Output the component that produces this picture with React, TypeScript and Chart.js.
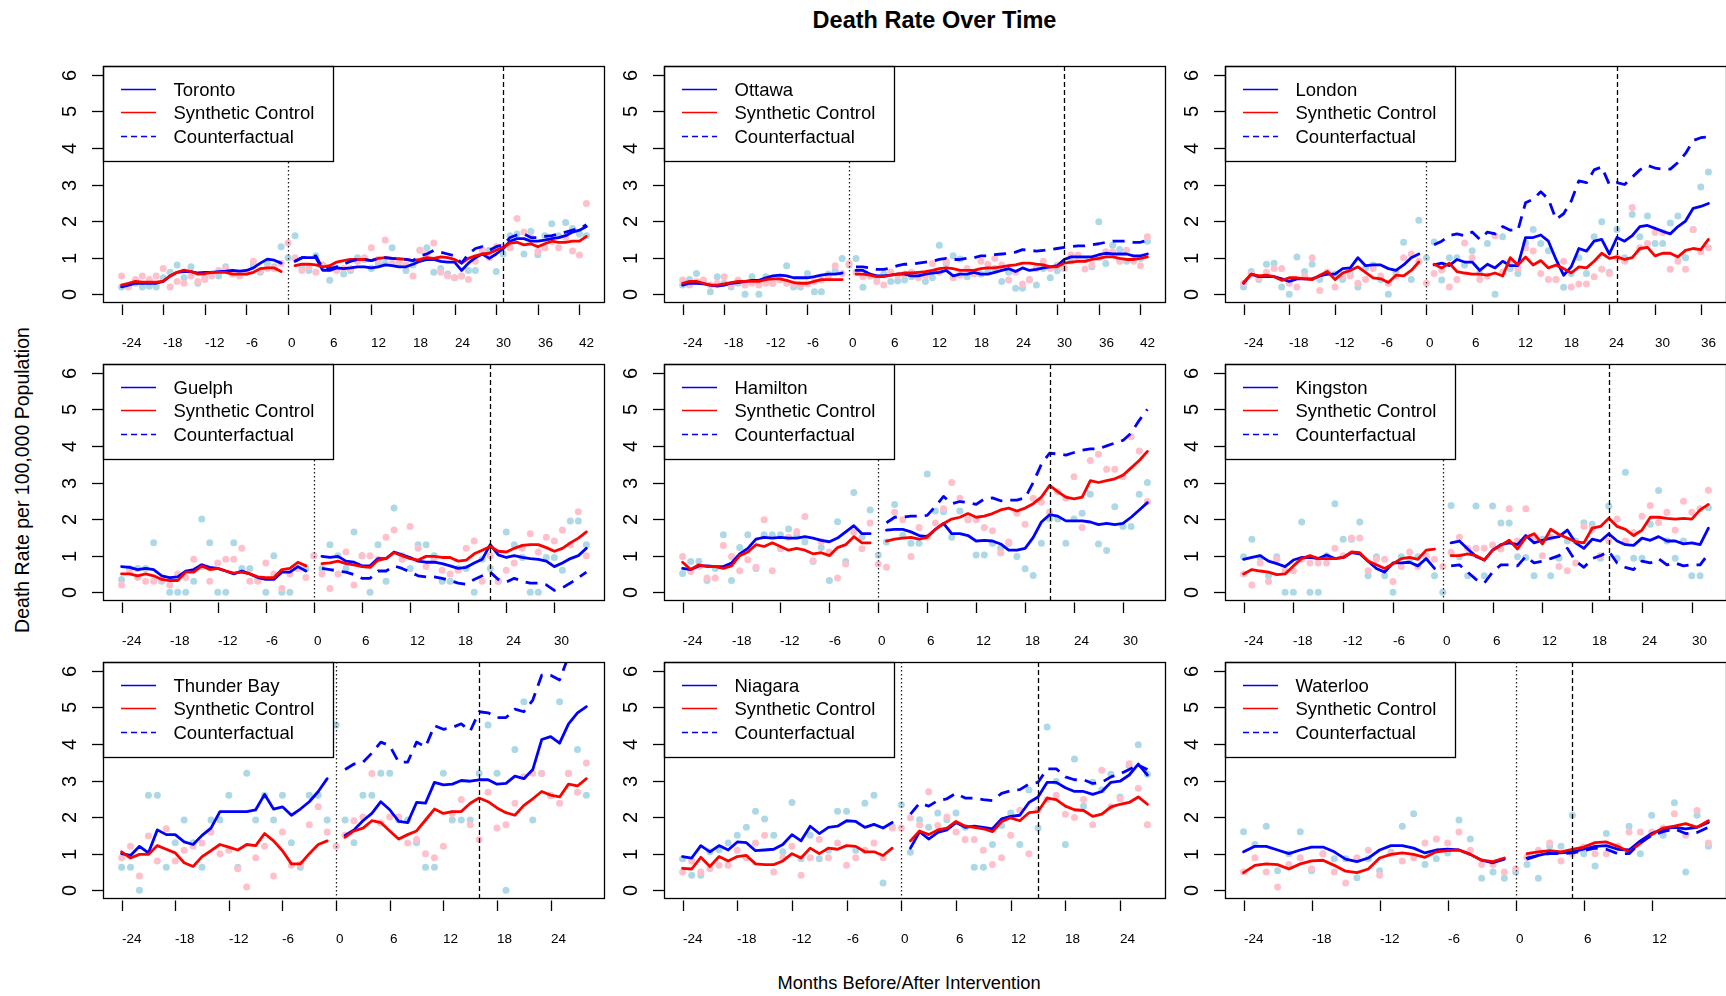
import React, { useEffect, useRef } from 'react';
import { Chart, registerables } from 'chart.js';

Chart.register(...registerables);

// ---------------- data ----------------
const cityNames = ['Toronto', 'Ottawa', 'London', 'Guelph', 'Hamilton', 'Kingston', 'Thunder Bay', 'Niagara', 'Waterloo'];
const lastMonths = [43, 43, 37, 34, 33, 32, 28, 27, 17];
const interventionMonths = [31, 31, 25, 22, 21, 20, 16, 15, 5];
const firstMonth = -24;
const yTicks = [0, 1, 2, 3, 4, 5, 6];
const xTickStep = 6;
const legendLabels = ['Synthetic Control', 'Counterfactual'];

// Each "Obs"/"Syn" line runs from month -24 to the last month (null at month 0).
// Each "Cf" line runs from month 1 to the last month. "Pts" run from -24 to the last month.
const torontoObs = [0.2,0.25,0.3,0.3,0.3,0.3,0.35,0.5,0.6,0.62, 0.62,0.58,0.6,0.6,0.62,0.63,0.65,0.63,0.65,0.72, 0.85,0.96,0.93,0.85, null, 0.9,1.0,1.0,1.0,0.65,0.65,0.72,0.7,0.72,0.75, 0.75,0.72,0.75,0.8,0.78,0.75,0.75,0.82,0.9,0.95, 0.95,0.9,0.88,0.88,0.65,0.85,1.0,1.1,0.98,1.1, 1.25,1.45,1.52,1.52,1.45,1.45,1.48,1.52,1.55,1.6, 1.7,1.75,1.85];
const torontoSyn = [0.25,0.3,0.35,0.33,0.33,0.33,0.36,0.5,0.6,0.66, 0.62,0.55,0.56,0.6,0.6,0.6,0.55,0.55,0.55,0.6, 0.7,0.72,0.72,0.62, null, 0.78,0.82,0.82,0.8,0.75,0.78,0.88,0.92,0.95,0.95, 0.95,0.92,0.98,1.0,0.98,0.97,0.95,0.92,0.95,1.0, 0.98,1.02,1.0,0.95,0.85,0.98,1.05,1.1,1.12,1.2, 1.28,1.4,1.42,1.35,1.38,1.3,1.38,1.45,1.42,1.42, 1.45,1.45,1.58];
const torontoCf = [0.9,1.0,1.0,1.05,0.7,0.7,0.75,0.82,0.9,0.95, 0.95,0.92,0.98,1.0,0.98,0.97,0.95,0.92,1.05,1.1, 1.2,1.15,1.1,1.05,0.85,1.1,1.25,1.3,1.2,1.3, 1.35,1.55,1.62,1.65,1.55,1.55,1.58,1.6,1.65,1.7, 1.75,1.8,1.9];
const torontoObsPts = [0.2,0.22,0.3,0.2,0.22,0.2,0.45,0.6,0.8,0.45, 0.75,0.3,0.45,0.55,0.5,0.75,0.6,0.55,0.6,0.8, 0.6,0.85,0.75,1.3, 1.0, 1.6,0.7,0.65,1.05,0.75,0.38,0.7,0.55,0.65,1.0, 0.95,0.7,0.85,0.85,1.27,0.85,0.65,0.8,1.2,1.27, 0.6,0.7,0.55,0.45,0.5,0.65,0.65,1.2,1.2,0.62, 1.1,1.6,1.65,1.1,1.72,1.08,1.6,1.93,1.6,1.96, 1.8,1.65,1.6];
const torontoSynPts = [0.5,0.2,0.4,0.5,0.4,0.5,0.7,0.2,0.35,0.3, 0.5,0.35,0.4,0.5,0.65,0.7,0.55,0.5,0.6,0.9, 0.65,0.7,0.7,0.85, 1.4, 1.0,0.65,0.75,0.6,0.8,0.7,0.65,0.7,0.7,0.9, 1.0,1.27,0.95,1.48,0.85,0.9,0.8,0.5,1.2,1.1, 1.4,0.6,0.5,0.45,0.5,0.4,0.9,1.2,1.0,1.3, 1.3,1.27,2.07,1.7,1.55,1.17,1.27,1.45,1.27,1.55, 1.18,1.07,2.48];

const ottawaObs = [0.25,0.3,0.3,0.28,0.25,0.22,0.25,0.3,0.32,0.35, 0.38,0.38,0.45,0.5,0.52,0.5,0.45,0.45,0.45,0.48, 0.52,0.55,0.55,0.58, null, 0.65,0.65,0.55,0.5,0.5,0.52,0.55,0.55,0.5,0.5, 0.55,0.58,0.6,0.65,0.5,0.55,0.55,0.6,0.55,0.55, 0.6,0.65,0.7,0.62,0.72,0.65,0.68,0.72,0.75,0.78, 0.95,1.02,1.02,1.02,1.02,1.08,1.12,1.1,1.1,1.1, 1.05,1.05,1.1];
const ottawaSyn = [0.3,0.35,0.35,0.3,0.25,0.25,0.28,0.32,0.35,0.35, 0.35,0.35,0.4,0.42,0.42,0.38,0.32,0.3,0.3,0.35, 0.4,0.4,0.4,0.4, null, 0.55,0.55,0.52,0.48,0.48,0.52,0.55,0.58,0.58,0.6, 0.62,0.65,0.7,0.72,0.7,0.65,0.65,0.65,0.7,0.72, 0.72,0.75,0.78,0.8,0.85,0.85,0.82,0.8,0.75,0.75, 0.85,0.88,0.9,0.9,0.95,0.98,1.02,1.02,0.98,0.95, 0.95,0.98,1.02];
const ottawaCf = [0.75,0.75,0.72,0.68,0.68,0.72,0.78,0.82,0.82,0.85, 0.88,0.9,0.95,0.98,0.95,0.95,0.98,1.0,1.05,1.05, 1.08,1.1,1.12,1.15,1.22,1.2,1.18,1.2,1.22,1.25, 1.28,1.3,1.32,1.32,1.35,1.38,1.42,1.45,1.45,1.45, 1.42,1.42,1.48];
const ottawaObsPts = [0.25,0.4,0.57,0.35,0.07,0.48,0.3,0.2,0.3,0.0, 0.48,0.0,0.48,0.3,0.45,0.78,0.2,0.2,0.57,0.07, 0.07,0.55,0.65,0.98, 0.8, 0.98,0.19,0.5,0.45,0.55,0.35,0.36,0.39,0.48,0.5, 0.35,0.45,1.34,0.84,1.05,0.96,0.48,0.6,0.55,0.62, 0.7,0.35,0.6,0.16,0.16,0.4,0.25,0.7,0.45,0.64, 0.72,0.9,1.0,0.95,0.75,1.98,0.84,1.34,1.22,0.9, 0.92,0.98,1.45];
const ottawaSynPts = [0.39,0.25,0.35,0.39,0.25,0.3,0.48,0.25,0.39,0.25, 0.3,0.25,0.3,0.3,0.39,0.3,0.28,0.25,0.28,0.35, 0.39,0.48,0.78,0.57, 0.84, 0.6,0.48,0.5,0.35,0.25,0.6,0.52,0.55,0.6,0.45, 0.5,0.84,0.6,0.9,0.45,0.52,0.7,0.55,0.9,0.82, 0.98,0.8,0.39,0.6,0.28,0.39,0.7,0.9,0.7,0.8, 0.7,1.07,1.07,0.69,0.8,1.0,1.16,1.16,0.9,1.2, 0.9,0.78,1.57];

const londonObs = [0.3,0.55,0.48,0.48,0.48,0.42,0.35,0.42,0.42,0.42, 0.5,0.55,0.55,0.7,0.72,1.0,0.78,0.8,0.8,0.7, 0.65,0.8,1.0,1.1, null, 0.8,0.85,0.78,0.95,0.88,0.88,0.65,0.82,0.72,0.9, 0.78,0.78,1.55,1.55,1.62,1.45,0.95,0.52,0.75,1.25, 1.18,1.45,1.5,1.1,1.55,1.45,1.6,1.85,1.88,1.8, 1.72,1.65,1.85,2.0,2.35,2.4,2.48];
const londonSyn = [0.32,0.55,0.5,0.52,0.48,0.38,0.45,0.45,0.42,0.4, 0.52,0.62,0.4,0.58,0.65,0.75,0.6,0.45,0.42,0.32, 0.52,0.5,0.65,0.88, null, 0.82,0.72,0.85,0.62,0.58,0.55,0.55,0.52,0.58,0.5, 1.0,0.8,1.02,0.8,0.92,0.72,0.8,0.7,0.58,0.75, 0.72,0.9,1.12,0.98,1.02,0.95,1.0,1.25,1.28,1.05, 1.12,1.12,1.02,1.2,1.25,1.22,1.5];
const londonCf = [1.35,1.45,1.6,1.65,1.6,1.7,1.5,1.7,1.65,1.85, 1.75,1.75,2.5,2.6,2.8,2.6,2.05,2.2,2.55,3.1, 3.05,3.4,3.48,3.0,3.05,3.0,3.2,3.4,3.52,3.45, 3.42,3.42,3.6,3.85,4.2,4.28,4.3];
const londonObsPts = [0.2,0.62,0.4,0.82,0.85,0.2,0.0,1.02,0.62,0.82, 0.4,0.6,0.55,0.4,0.55,0.2,0.7,0.8,0.4,0.0, 0.6,1.42,0.4,2.02, 1.0, 1.43,0.39,1.0,1.0,0.8,1.19,0.57,1.39,0.0,1.57, 0.7,0.57,1.4,1.77,1.39,1.19,0.4,0.19,0.57,1.0, 0.57,1.57,1.98,0.6,1.77,1.0,2.18,1.57,2.14,1.39, 1.39,1.95,2.14,1.0,1.77,2.93,3.34];
const londonSynPts = [0.3,0.55,0.45,0.6,0.7,0.7,0.3,0.2,0.5,1.0, 0.1,0.6,0.2,0.5,0.5,0.3,0.4,0.7,0.5,0.3, 0.5,1.0,1.1,0.9, 0.3, 0.57,0.66,0.2,0.4,1.4,1.0,0.4,0.5,1.6,0.6, 0.9,0.7,1.27,1.18,0.57,0.4,0.4,0.9,0.2,0.28, 0.28,0.48,0.68,0.57,1.0,0.9,2.37,1.27,1.39,1.69, 1.69,0.68,0.9,0.68,1.77,1.16,1.27];

const guelphObs = [0.7,0.68,0.62,0.65,0.62,0.45,0.4,0.42,0.58,0.62, 0.75,0.68,0.65,0.58,0.5,0.58,0.5,0.4,0.35,0.35, 0.55,0.55,0.7,0.58, null, 0.98,0.95,0.98,0.85,0.82,0.72,0.72,0.92,0.92,1.1, 1.02,0.95,0.85,0.82,0.82,0.78,0.72,0.65,0.68,0.8, 0.9,1.3,1.02,0.95,1.0,0.95,0.92,0.9,0.85,0.7, 0.8,0.92,1.0,1.2];
const guelphSyn = [0.5,0.5,0.45,0.5,0.45,0.35,0.32,0.32,0.55,0.55, 0.72,0.62,0.65,0.58,0.52,0.55,0.5,0.42,0.4,0.4, 0.62,0.65,0.82,0.72, null, 0.78,0.8,0.85,0.78,0.75,0.7,0.68,0.88,0.92,1.08, 1.0,0.92,0.88,0.98,0.98,0.95,0.95,0.85,0.88,1.05, 1.15,1.25,1.12,1.1,1.2,1.28,1.3,1.3,1.22,1.12, 1.2,1.35,1.48,1.65];
const guelphCf = [0.65,0.62,0.58,0.55,0.48,0.38,0.38,0.58,0.58,0.72, 0.65,0.55,0.45,0.42,0.42,0.38,0.32,0.25,0.22,0.35, 0.45,0.55,0.35,0.28,0.38,0.3,0.25,0.25,0.2,0.05, 0.12,0.25,0.4,0.55];
const guelphObsPts = [0.35,0.65,0.65,0.65,1.35,0.3,0.0,0.0,0.0,0.3, 2.0,1.35,0.0,0.0,1.35,0.65,0.65,0.35,0.0,1.0, 0.0,0.0,0.65,0.65, 1.0, 0.65,1.3,1.0,0.65,1.65,1.0,0.0,1.3,0.3,2.3, 1.0,0.65,1.3,1.3,1.0,0.3,0.3,0.65,0.65,0.0, 0.9,0.65,0.3,1.65,1.3,0.95,0.0,0.0,0.95,0.95, 0.6,1.95,1.95,1.3];
const guelphSynPts = [0.2,0.55,0.4,0.3,0.3,0.35,0.2,0.5,0.4,0.9, 0.7,0.3,0.8,0.9,0.9,1.2,0.3,0.3,0.8,0.5, 0.1,0.5,0.65,0.4, 1.0, 0.5,0.1,0.5,1.1,0.2,1.0,1.0,0.9,1.5,1.7, 0.9,1.8,1.2,0.7,0.9,0.6,0.5,0.6,1.2,1.4, 0.3,1.0,0.3,0.6,0.8,1.2,1.6,1.1,1.5,1.4, 1.7,1.3,2.2,1.0];

const hamiltonObs = [0.65,0.62,0.72,0.72,0.7,0.7,0.8,1.05,1.2,1.45, 1.5,1.48,1.5,1.48,1.48,1.52,1.48,1.42,1.38,1.48, 1.65,1.82,1.6,1.6, null, 1.7,1.72,1.72,1.65,1.55,1.52,1.72,1.88,1.6,1.6, 1.55,1.4,1.42,1.4,1.32,1.15,1.15,1.2,1.5,1.92, 2.12,2.08,1.95,1.95,1.95,1.92,1.85,1.88,1.85,1.88, 2.05,2.25,2.45];
const hamiltonSyn = [0.82,0.62,0.75,0.7,0.7,0.65,0.72,1.0,1.1,1.3, 1.25,1.35,1.25,1.15,1.2,1.15,1.05,1.08,1.0,1.22, 1.3,1.52,1.35,1.35, null, 1.4,1.45,1.48,1.5,1.45,1.5,1.72,1.88,2.0,2.05, 2.15,2.05,2.08,2.15,2.25,2.3,2.22,2.3,2.42,2.6, 2.92,2.75,2.6,2.55,2.6,3.05,3.0,3.05,3.1,3.2, 3.4,3.6,3.85];
const hamiltonCf = [1.9,2.05,2.05,2.08,2.08,2.1,2.35,2.62,2.42,2.48, 2.45,2.4,2.55,2.58,2.5,2.52,2.52,2.58,3.0,3.5, 3.8,3.78,3.75,3.82,3.88,3.92,3.92,4.0,4.08,4.15, 4.35,4.7,5.0];
const hamiltonObsPts = [0.51,0.84,0.85,0.32,0.65,1.57,0.32,1.22,1.57,0.65, 1.57,1.57,1.57,1.73,1.57,1.37,0.84,1.22,0.32,1.93, 0.84,2.73,1.5,2.25, 1.02, 1.37,2.4,1.55,1.34,1.34,3.23,2.22,2.2,1.5,2.22, 1.98,1.02,1.02,1.34,1.2,1.34,0.98,0.64,0.46,1.34, 2.0,2.0,1.34,2.0,2.16,2.68,1.32,1.14,2.34,1.8, 1.8,2.68,3.0];
const hamiltonSynPts = [0.98,0.57,0.7,0.39,0.39,1.28,0.98,0.59,0.89,0.68, 1.98,0.59,1.19,1.5,1.66,2.07,0.86,1.39,1.1,0.39, 0.77,1.64,1.19,1.89, 0.77, 0.68,2.19,1.98,0.98,1.77,1.5,1.89,2.28,3.0,2.57, 1.98,1.98,1.77,1.68,1.07,1.37,2.16,1.86,2.57,2.46, 2.19,2.75,2.57,3.16,1.77,3.6,3.77,3.36,3.36,3.16, 4.25,3.86,2.48];

const kingstonObs = [0.9,0.95,1.0,0.85,0.78,0.7,0.88,0.95,0.95,0.92, 1.02,0.92,0.95,1.08,1.05,0.85,0.65,0.55,0.8,0.8, 0.82,0.72,0.92,0.65, null, 1.35,1.4,1.18,0.98,0.88,1.15,1.3,1.35,1.3,1.55, 1.35,1.42,1.48,1.52,1.7,1.35,1.2,1.45,1.4,1.6, 1.4,1.3,1.28,1.48,1.42,1.52,1.4,1.4,1.32,1.35, 1.3,1.75];
const kingstonSyn = [0.5,0.62,0.58,0.55,0.48,0.5,0.72,0.92,1.0,0.92, 0.92,0.92,0.95,1.1,1.08,0.85,0.75,0.65,0.78,0.92, 0.95,0.9,1.15,1.18, null, 1.0,1.0,1.05,1.0,0.88,1.15,1.28,1.42,1.18,1.5, 1.6,1.32,1.72,1.58,1.48,1.38,1.35,1.75,1.8,2.02, 1.8,1.72,1.55,1.7,2.05,2.05,2.02,2.0,2.02,2.0, 2.25,2.4];
const kingstonCf = [0.72,0.75,0.55,0.35,0.25,0.55,0.75,0.75,0.72,0.98, 0.8,0.85,0.92,1.0,1.2,0.85,0.68,0.92,1.0,1.12, 0.8,0.68,0.62,0.85,0.8,0.92,0.75,0.8,0.72,0.75, 0.75,1.05];
const kingstonObsPts = [0.97,1.45,0.95,0.45,0.97,0.0,0.0,1.92,0.0,0.0, 1.0,2.42,1.45,1.45,1.92,0.45,0.97,0.45,0.0,0.97, 0.9,0.97,0.95,0.45, 0.0, 2.37,0.97,0.45,2.36,0.45,2.36,1.89,1.89,0.97,0.95, 0.45,1.45,0.45,0.93,1.4,1.4,1.9,1.86,0.93,2.36, 0.93,3.28,0.93,0.93,1.86,2.78,1.4,0.93,1.4,0.45, 0.45,2.31];
const kingstonSynPts = [0.5,0.2,0.8,0.29,0.9,0.59,0.59,0.9,0.8,0.8, 0.8,1.2,1.0,1.48,1.48,0.59,0.9,0.9,0.29,0.7, 1.1,0.7,1.0,0.9, 0.7, 1.09,1.5,1.2,1.2,1.2,1.29,1.18,2.28,1.4,2.28, 1.5,1.0,1.5,0.7,0.59,0.8,1.8,1.72,1.0,1.4, 2.0,1.4,1.63,2.08,2.37,1.9,2.19,1.7,2.49,2.19, 2.28,2.79];

const thunderBayObs = [1.0,0.95,1.2,1.02,1.65,1.52,1.52,1.32,1.25,1.5, 1.7,2.15,2.15,2.15,2.15,2.2,2.62,2.22,2.28,2.05, 2.22,2.42,2.7,3.05, null, 1.5,1.65,1.9,2.1,2.42,2.2,1.88,1.85,2.4,2.38, 2.95,2.88,2.9,3.0,2.98,3.02,3.02,2.9,2.92,3.12, 3.05,3.3,4.12,4.2,4.02,4.55,4.85,5.02];
const thunderBaySyn = [1.05,0.88,0.98,0.98,1.22,1.12,1.02,0.75,0.65,0.92, 1.08,1.25,1.18,1.1,1.25,1.22,1.55,1.35,1.08,0.72, 0.72,1.0,1.25,1.35, null, 1.45,1.62,1.7,1.9,1.85,1.62,1.4,1.52,1.62,1.92, 2.22,2.1,2.15,2.15,2.38,2.52,2.42,2.25,2.12,2.05, 2.32,2.5,2.7,2.6,2.55,2.9,2.85,3.05];
const thunderBayCf = [3.3,3.45,3.5,3.75,4.05,3.95,3.5,3.5,4.05,3.92, 4.5,4.4,4.45,4.55,4.35,4.88,4.85,4.72,4.72,4.95, 4.88,5.2,5.88,5.88,5.75,6.4,6.8,7.1];
const thunderBayObsPts = [0.63,0.63,0.0,2.6,2.6,0.63,1.3,1.92,1.3,0.63, 1.92,1.92,2.6,0.63,3.2,1.92,2.6,1.92,2.6,1.3, 0.63,2.6,2.6,1.92, 4.52, 1.92,1.3,2.6,2.6,3.2,3.2,1.92,1.92,1.3,0.63, 0.63,3.2,1.92,1.92,1.92,3.2,4.52,3.2,0.0,3.85, 5.15,1.92,3.2,2.6,5.15,3.2,3.85,2.6];
const thunderBaySynPts = [0.89,1.2,0.39,1.48,0.8,1.68,0.8,1.09,1.2,1.29, 1.59,1.0,1.09,0.59,0.09,0.89,1.2,0.39,1.59,0.68, 0.72,1.79,2.28,1.59, 1.2, 1.5,1.9,2.0,3.19,1.84,2.0,2.0,1.29,1.39,1.0, 0.89,1.2,2.1,2.48,1.79,1.39,2.68,1.7,1.79,2.38, 3.1,3.2,3.19,2.58,2.38,3.19,2.68,3.48];

const niagaraObs = [0.92,0.88,1.22,1.05,1.22,1.1,1.32,1.3,1.08,1.1, 1.12,1.25,1.52,1.35,1.75,1.55,1.72,1.75,1.9,1.88, 1.72,1.8,1.7,1.85, null, 1.15,1.6,1.4,1.58,1.65,1.85,1.72,1.75,1.72,1.68, 1.95,2.02,2.05,2.4,2.55,2.95,2.95,2.8,2.7,2.7, 2.62,2.7,2.95,2.98,3.15,3.45,3.15];
const niagaraSyn = [0.6,0.58,0.9,0.65,0.92,0.8,0.92,0.95,0.72,0.7, 0.7,0.8,1.0,0.88,1.15,1.0,1.15,1.12,1.22,1.2, 1.05,1.05,0.95,1.15, null, 1.35,1.62,1.52,1.65,1.7,1.88,1.75,1.72,1.68,1.6, 1.88,1.98,1.9,2.12,2.15,2.52,2.48,2.3,2.2,2.18, 2.02,2.08,2.28,2.35,2.4,2.55,2.35];
const niagaraCf = [2.08,2.38,2.3,2.45,2.5,2.65,2.52,2.52,2.48,2.45, 2.65,2.72,2.75,2.9,2.95,3.32,3.32,3.1,3.02,3.02, 2.92,2.95,3.1,3.18,3.3,3.42,3.3];
const niagaraObsPts = [0.86,0.41,0.41,1.05,1.11,1.29,1.5,1.72,2.16,1.95, 1.5,1.05,2.4,0.86,1.5,0.86,1.09,2.16,2.16,1.09, 2.38,2.6,0.2,1.74, 2.34, 1.04,1.93,1.72,2.11,1.93,2.11,1.72,0.63,0.63,1.25, 1.77,2.11,1.25,2.74,1.7,4.46,2.97,1.25,3.59,2.3, 2.95,2.74,3.17,2.55,3.4,3.98,3.17];
const niagaraSynPts = [0.5,0.8,0.5,0.59,0.68,0.68,1.09,0.89,1.29,1.5, 0.5,0.89,1.2,0.41,0.89,1.39,0.89,1.29,0.68,0.89, 1.09,1.29,0.89,1.7, 1.7, 1.98,1.79,2.69,1.77,2.0,1.59,1.39,1.39,1.09,0.7, 0.89,1.5,2.19,1.0,2.2,2.48,2.6,2.08,1.99,2.48, 1.79,3.28,2.28,2.5,3.46,2.79,1.79];

const waterlooObs = [1.05,1.2,1.2,1.1,1.0,1.1,1.18,1.18,1.05,0.85, 0.78,0.88,1.1,1.22,1.22,1.15,1.02,1.1,1.12,1.1, 0.98,0.82,0.75,0.85, null, 0.88,0.95,1.02,1.02,1.05,1.12,1.2,1.22,1.12,1.1, 1.35,1.55,1.68,1.72,1.68,1.72,1.85];
const waterlooSyn = [0.48,0.68,0.72,0.7,0.58,0.72,0.8,0.82,0.68,0.52, 0.48,0.58,0.88,0.98,1.02,0.98,0.9,1.05,1.08,1.1, 0.98,0.82,0.78,0.88, null, 1.0,1.05,1.08,1.05,1.12,1.18,1.3,1.32,1.2,1.05, 1.28,1.52,1.7,1.75,1.82,1.72,1.9];
const waterlooCf = [0.85,0.95,1.0,1.0,1.02,1.08,1.15,1.12,1.0,1.0, 1.3,1.5,1.6,1.68,1.55,1.58,1.72];
const waterlooObsPts = [1.6,1.25,1.75,0.53,1.0,1.6,0.53,1.0,0.86,0.86, 0.34,0.86,0.53,1.04,1.75,2.09,0.7,0.86,1.02,1.92, 1.4,0.33,0.5,0.33, 0.5, 0.7,0.33,1.2,1.2,2.05,1.0,0.66,1.55,1.2,1.75, 1.0,2.05,1.5,2.39,0.5,2.05,1.2];
const waterlooSynPts = [0.5,0.89,0.5,0.09,0.7,0.89,0.59,1.0,0.5,0.2, 0.89,1.09,0.41,1.0,0.8,0.89,1.29,1.4,1.29,1.59, 1.09,0.7,0.7,0.5, 0.59, 0.9,1.09,1.29,0.8,1.0,1.18,1.0,1.0,1.2,1.59, 1.59,1.59,1.7,2.09,1.5,2.18,1.29];

const obsSeries = [torontoObs, ottawaObs, londonObs, guelphObs, hamiltonObs, kingstonObs, thunderBayObs, niagaraObs, waterlooObs];
const synSeries = [torontoSyn, ottawaSyn, londonSyn, guelphSyn, hamiltonSyn, kingstonSyn, thunderBaySyn, niagaraSyn, waterlooSyn];
const cfSeries = [torontoCf, ottawaCf, londonCf, guelphCf, hamiltonCf, kingstonCf, thunderBayCf, niagaraCf, waterlooCf];
const obsPtsSeries = [torontoObsPts, ottawaObsPts, londonObsPts, guelphObsPts, hamiltonObsPts, kingstonObsPts, thunderBayObsPts, niagaraObsPts, waterlooObsPts];
const synPtsSeries = [torontoSynPts, ottawaSynPts, londonSynPts, guelphSynPts, hamiltonSynPts, kingstonSynPts, thunderBaySynPts, niagaraSynPts, waterlooSynPts];

// ---------------- styling / layout ----------------
const FONT = '"Liberation Sans", Arial, Helvetica, sans-serif';
const BLUE = '#0000FF';
const RED = '#FF0000';
const LIGHTBLUE = '#ADD8E6';
const PINK = '#FFC0CB';
const COL_LEFT = [103, 664, 1225];
const ROW_TOP = [66, 364, 662];
const BOX_W = 502;
const BOX_H = 237;
const PAD = { left: 60, top: 10, right: 10, bottom: 60 };
const CW = BOX_W + PAD.left + PAD.right;
const CH = BOX_H + PAD.top + PAD.bottom;
const Y_MIN = -0.24;
const Y_MAX = 6.24;

type PanelData = {
  name: string;
  last: number;
  interv: number;
  obs: (number | null)[];
  syn: (number | null)[];
  cf: number[];
  obsPts: number[];
  synPts: number[];
};

const panels: PanelData[] = cityNames.map((name, i) => ({
  name,
  last: lastMonths[i],
  interv: interventionMonths[i],
  obs: obsSeries[i],
  syn: synSeries[i],
  cf: cfSeries[i],
  obsPts: obsPtsSeries[i],
  synPts: synPtsSeries[i],
}));

const toXY = (vals: (number | null)[], start: number) => vals.map((v, i) => ({ x: start + i, y: v }));

function makeDeco(p: PanelData) {
  return {
    id: 'panelDeco',
    afterDatasetsDraw(chart: any) {
      const { ctx, chartArea: a } = chart;
      const xs = chart.scales.x;
      ctx.save();
      ctx.beginPath();
      ctx.rect(a.left, a.top, a.right - a.left, a.bottom - a.top);
      ctx.clip();
      ctx.lineWidth = 1.3;
      ctx.strokeStyle = '#222';
      ctx.setLineDash([1.5, 2.5]);
      const x0 = Math.round(xs.getPixelForValue(0)) + 0.5;
      ctx.beginPath();
      ctx.moveTo(x0, a.top);
      ctx.lineTo(x0, a.bottom);
      ctx.stroke();
      ctx.strokeStyle = '#000';
      ctx.setLineDash([5, 3]);
      const xi = Math.round(xs.getPixelForValue(p.interv)) + 0.5;
      ctx.beginPath();
      ctx.moveTo(xi, a.top);
      ctx.lineTo(xi, a.bottom);
      ctx.stroke();
      ctx.restore();
    },
    afterDraw(chart: any) {
      const { ctx, chartArea: a } = chart;
      const xs = chart.scales.x;
      const ys = chart.scales.y;
      ctx.save();
      // legend
      const lw = 230;
      const lh = 95;
      ctx.fillStyle = '#fff';
      ctx.fillRect(a.left, a.top, lw, lh);
      ctx.setLineDash([]);
      ctx.strokeStyle = '#000';
      ctx.lineWidth = 1.3;
      ctx.strokeRect(a.left + 0.5, a.top + 0.5, lw, lh);
      const rows: [string, string, number[]][] = [
        [p.name, BLUE, []],
        [legendLabels[0], RED, []],
        [legendLabels[1], BLUE, [6, 4]],
      ];
      ctx.font = `18.5px ${FONT}`;
      ctx.textBaseline = 'middle';
      ctx.textAlign = 'left';
      rows.forEach(([label, color, dash], i) => {
        const ty = a.top + 25 + i * 23.4;
        ctx.strokeStyle = color;
        ctx.lineWidth = 1.4;
        ctx.setLineDash(dash);
        ctx.beginPath();
        ctx.moveTo(a.left + 18, Math.round(ty - 2) + 0.5);
        ctx.lineTo(a.left + 53, Math.round(ty - 2) + 0.5);
        ctx.stroke();
        ctx.fillStyle = '#000';
        ctx.fillText(label, a.left + 70.5, ty);
      });
      ctx.setLineDash([]);
      // plot box
      ctx.strokeStyle = '#000';
      ctx.lineWidth = 1.3;
      ctx.strokeRect(a.left + 0.5, a.top + 0.5, a.right - a.left - 1, a.bottom - a.top - 1);
      // y axis ticks & labels
      ctx.font = `20px ${FONT}`;
      ctx.fillStyle = '#000';
      yTicks.forEach((v) => {
        const py = Math.round(ys.getPixelForValue(v)) + 0.5;
        ctx.beginPath();
        ctx.moveTo(a.left - 11, py);
        ctx.lineTo(a.left, py);
        ctx.stroke();
        ctx.save();
        ctx.translate(a.left - 33, py);
        ctx.rotate(-Math.PI / 2);
        ctx.textAlign = 'center';
        ctx.textBaseline = 'middle';
        ctx.fillText(String(v), 0, 0);
        ctx.restore();
      });
      // x axis ticks & labels
      ctx.font = `13.5px ${FONT}`;
      ctx.textAlign = 'left';
      ctx.textBaseline = 'middle';
      for (let m = firstMonth; m <= p.last; m += xTickStep) {
        const px = Math.round(xs.getPixelForValue(m)) + 0.5;
        ctx.beginPath();
        ctx.moveTo(px, a.bottom + 1.5);
        ctx.lineTo(px, a.bottom + 12);
        ctx.stroke();
        ctx.fillText(String(m), px - 0.5, a.bottom + 40);
      }
      ctx.restore();
    },
  };
}

function Panel({ p, left, top }: { p: PanelData; left: number; top: number }) {
  const ref = useRef<HTMLCanvasElement>(null);
  useEffect(() => {
    const span = p.last - firstMonth;
    const xmin = firstMonth - 0.04 * span;
    const xmax = p.last + 0.04 * span;
    const lineBase = { showLine: true, pointRadius: 0, borderJoinStyle: 'round', clip: 0, tension: 0, fill: false };
    const chart = new Chart(ref.current as HTMLCanvasElement, {
      type: 'scatter',
      data: {
        datasets: [
          { ...lineBase, label: 'Counterfactual', data: toXY(p.cf, 1), borderColor: BLUE, borderWidth: 2.8, borderDash: [12, 8], borderCapStyle: 'butt' },
          { ...lineBase, label: 'Synthetic Control', data: toXY(p.syn, firstMonth), borderColor: RED, borderWidth: 2.8, borderCapStyle: 'round' },
          { ...lineBase, label: p.name, data: toXY(p.obs, firstMonth), borderColor: BLUE, borderWidth: 2.8, borderCapStyle: 'round' },
          { label: 'synPts', data: toXY(p.synPts, firstMonth), pointRadius: 3.5, pointBorderWidth: 0, pointBackgroundColor: PINK, pointBorderColor: PINK, backgroundColor: PINK, borderColor: PINK, clip: 0 },
          { label: 'obsPts', data: toXY(p.obsPts, firstMonth), pointRadius: 3.5, pointBorderWidth: 0, pointBackgroundColor: LIGHTBLUE, pointBorderColor: LIGHTBLUE, backgroundColor: LIGHTBLUE, borderColor: LIGHTBLUE, clip: 0 },
        ] as any,
      },
      options: {
        animation: false,
        responsive: false,
        devicePixelRatio: 1,
        events: [],
        layout: { padding: PAD },
        scales: {
          x: { type: 'linear', display: false, min: xmin, max: xmax },
          y: { type: 'linear', display: false, min: Y_MIN, max: Y_MAX },
        },
        plugins: {
          legend: { display: false },
          tooltip: { enabled: false },
          title: { display: false },
        },
      } as any,
      plugins: [makeDeco(p)],
    });
    return () => chart.destroy();
  }, [p]);
  return (
    <canvas
      ref={ref}
      width={CW}
      height={CH}
      style={{ position: 'absolute', left, top, width: CW, height: CH }}
    />
  );
}

export default function App() {
  return (
    <div
      style={{
        position: 'absolute',
        left: 0,
        top: 0,
        width: 1726,
        height: 996,
        overflow: 'hidden',
        background: '#fff',
        color: '#000',
      }}
    >
      <div
        style={{
          position: 'absolute',
          left: 0,
          top: 8,
          width: 1869,
          textAlign: 'center',
          fontFamily: FONT,
          fontWeight: 'bold',
          fontSize: '23.5px',
          lineHeight: '24px',
          whiteSpace: 'nowrap',
        }}
      >
        Death Rate Over Time
      </div>
      {panels.map((p, i) => (
        <Panel
          key={p.name}
          p={p}
          left={COL_LEFT[i % 3] - PAD.left}
          top={ROW_TOP[Math.floor(i / 3)] - PAD.top}
        />
      ))}
      <div
        style={{
          position: 'absolute',
          left: 409,
          top: 973,
          width: 1000,
          textAlign: 'center',
          fontFamily: FONT,
          fontSize: '18.3px',
          lineHeight: '20px',
          whiteSpace: 'nowrap',
        }}
      >
        Months Before/After Intervention
      </div>
      <div
        style={{
          position: 'absolute',
          left: 22 - 200,
          top: 480 - 12,
          width: 400,
          height: 24,
          textAlign: 'center',
          fontFamily: FONT,
          fontSize: '19.5px',
          lineHeight: '24px',
          whiteSpace: 'nowrap',
          transform: 'rotate(-90deg)',
        }}
      >
        Death Rate per 100,000 Population
      </div>
    </div>
  );
}
